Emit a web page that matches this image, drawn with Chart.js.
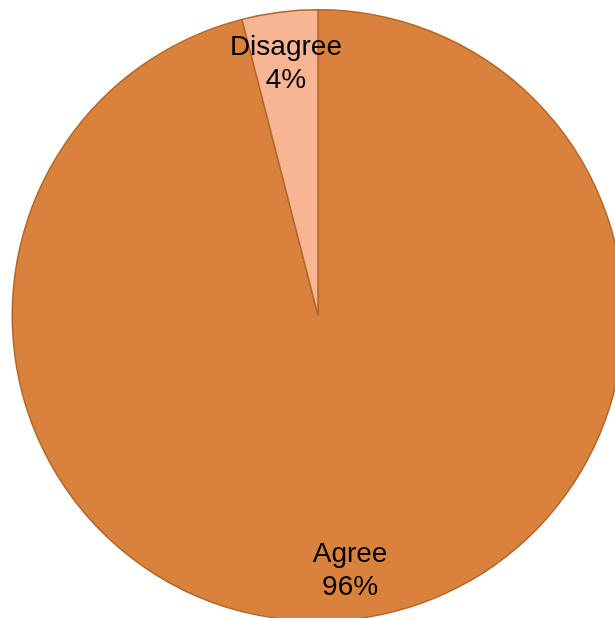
<!DOCTYPE html>
<html>
<head>
<meta charset="utf-8">
<script src="https://cdn.jsdelivr.net/npm/chart.js@4/dist/chart.umd.min.js"></script>
<style>
  html, body { margin: 0; padding: 0; background: #ffffff; overflow: hidden; width: 615px; height: 618px; }
  #wrap { position: absolute; left: 0; top: 0; width: 640px; height: 640px; }
</style>
</head>
<body>
<div id="wrap"><canvas id="c" width="640" height="640"></canvas></div>
<script>
const categories = ['Agree', 'Disagree'];
const values = [96, 4];
const percentLabels = ['96%', '4%'];

const labelPlugin = {
  id: 'pieLabels',
  afterDatasetsDraw(chart) {
    const ctx = chart.ctx;
    const meta = chart.getDatasetMeta(0);
    ctx.save();
    ctx.fillStyle = '#000000';
    ctx.font = '28px "Liberation Sans", Arial, sans-serif';
    ctx.textAlign = 'center';
    ctx.textBaseline = 'alphabetic';
    meta.data.forEach((arc, i) => {
      const p = arc.getProps(['x', 'y', 'startAngle', 'endAngle', 'outerRadius'], true);
      const mid = (p.startAngle + p.endAngle) / 2;
      const r = p.outerRadius * 0.837;
      const cx = p.x + Math.cos(mid) * r;
      const cy = p.y + Math.sin(mid) * r;
      ctx.fillText(categories[i], cx, cy - 7);
      ctx.fillText(percentLabels[i], cx, cy + 26);
    });
    ctx.restore();
  }
};

new Chart(document.getElementById('c'), {
  type: 'pie',
  data: {
    labels: categories,
    datasets: [{
      data: values,
      backgroundColor: ['#D9823C', '#F8B593'],
      borderColor: '#B4652A',
      borderWidth: 1.5
    }]
  },
  options: {
    responsive: false,
    devicePixelRatio: 1,
    animation: false,
    layout: { padding: { left: 11.5, top: 9, right: 15.5, bottom: 18 } },
    plugins: {
      legend: { display: false },
      tooltip: { enabled: false }
    }
  },
  plugins: [labelPlugin]
});
</script>
</body>
</html>
